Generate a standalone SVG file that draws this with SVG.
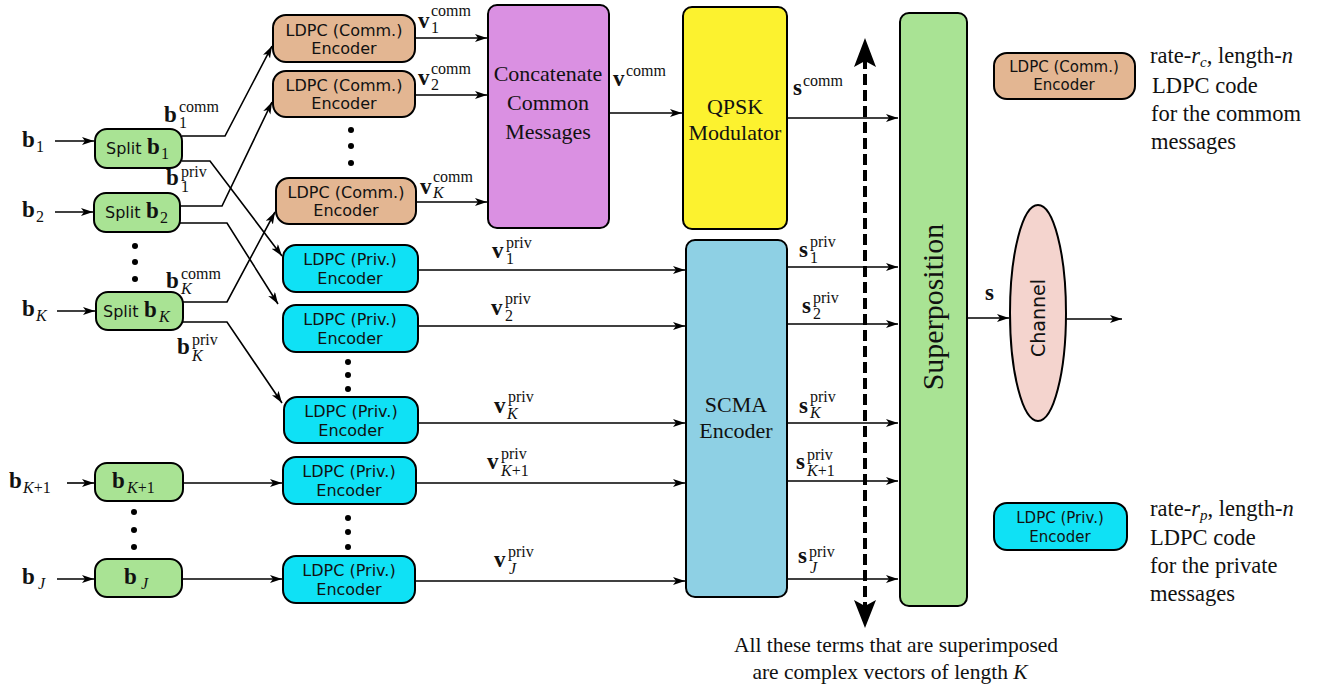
<svg xmlns="http://www.w3.org/2000/svg" width="1330" height="690" viewBox="0 0 1330 690">
  <style>
    .box { stroke: #000; stroke-width: 2; }
    .split { fill: #a9e394; }
    .comm { fill: #e3b692; }
    .priv { fill: #0fe1f5; }
    .sans { font-family: "DejaVu Sans", "Liberation Sans", sans-serif; font-size: 16px; fill: #111; }
    .serif { font-family: "Liberation Serif", serif; font-size: 22px; fill: #111; }
    .lg { font-size: 22.5px; }
    .mb { font-family: "Liberation Serif", serif; font-weight: bold; font-size: 23px; fill: #111; }
    .sup { font-family: "Liberation Serif", serif; font-size: 16px; fill: #111; }
    .sub { font-family: "Liberation Serif", serif; font-size: 16px; fill: #111; }
    .it { font-style: italic; }
    .wire { fill: none; stroke: #000; stroke-width: 1.6; }
    .dot { fill: #000; }
  </style>
  <defs>
    <marker id="arr" markerUnits="userSpaceOnUse" markerWidth="14" markerHeight="10" refX="12" refY="4" orient="auto">
      <path d="M0,0 L12,4 L0,8 L3,4 z" fill="#000"/>
    </marker>
  </defs>

  <!-- input labels -->
  <g id="inputs">
    <text class="mb" x="22" y="147">b</text><text class="sub" x="36" y="152">1</text>
    <text class="mb" x="22" y="217">b</text><text class="sub" x="36" y="222">2</text>
    <text class="mb" x="22" y="316">b</text><text class="sub it" x="36" y="321">K</text>
    <text class="mb" x="9" y="488">b</text><text class="sub" x="23" y="493"><tspan class="it">K</tspan>+1</text>
    <text class="mb" x="22" y="584">b</text><text class="sub it" x="38" y="589">J</text>
  </g>

  <!-- splitters -->
  <g id="split1">
    <rect class="box split" x="95" y="129" width="87" height="39" rx="12"/>
    <text class="sans" x="106" y="154">Split</text><text class="mb" x="147" y="154">b</text><text class="sub" x="161" y="159">1</text>
  </g>
  <g id="split2">
    <rect class="box split" x="94" y="193" width="86" height="39" rx="12"/>
    <text class="sans" x="105" y="218">Split</text><text class="mb" x="146" y="218">b</text><text class="sub" x="160" y="223">2</text>
  </g>
  <g id="splitK">
    <rect class="box split" x="96" y="292" width="87" height="38" rx="12"/>
    <text class="sans" x="103" y="317">Split</text><text class="mb" x="144" y="317">b</text><text class="sub it" x="159" y="322">K</text>
  </g>
  <g id="bK1">
    <rect class="box split" x="95" y="463" width="88" height="38" rx="12"/>
    <text class="mb" x="112" y="488">b</text><text class="sub" x="127" y="493"><tspan class="it">K</tspan>+1</text>
  </g>
  <g id="bJ">
    <rect class="box split" x="95" y="559" width="87" height="38" rx="12"/>
    <text class="mb" x="124" y="584">b</text><text class="sub it" x="141" y="589">J</text>
  </g>
  <g id="split-dots">
    <circle class="dot" cx="135" cy="246" r="3"/><circle class="dot" cx="135" cy="262" r="3"/><circle class="dot" cx="135" cy="279" r="3"/>
    <circle class="dot" cx="134" cy="512" r="3"/><circle class="dot" cx="134" cy="530" r="3"/><circle class="dot" cx="134" cy="547" r="3"/>
  </g>

  <!-- common-message LDPC encoders -->
  <g id="encC1">
    <rect class="box comm" x="273" y="15" width="142" height="47" rx="13"/>
    <text class="sans" x="344" y="36" text-anchor="middle">LDPC (Comm.)</text>
    <text class="sans" x="344" y="54" text-anchor="middle">Encoder</text>
  </g>
  <g id="encC2">
    <rect class="box comm" x="273" y="71" width="142" height="46" rx="13"/>
    <text class="sans" x="344" y="91" text-anchor="middle">LDPC (Comm.)</text>
    <text class="sans" x="344" y="109" text-anchor="middle">Encoder</text>
  </g>
  <g id="encCK">
    <rect class="box comm" x="276" y="178" width="140" height="46" rx="13"/>
    <text class="sans" x="346" y="198" text-anchor="middle">LDPC (Comm.)</text>
    <text class="sans" x="346" y="216" text-anchor="middle">Encoder</text>
  </g>
  <g id="encC-dots">
    <circle class="dot" cx="351" cy="130" r="3"/><circle class="dot" cx="351" cy="146" r="3"/><circle class="dot" cx="351" cy="163" r="3"/>
  </g>

  <!-- private-message LDPC encoders -->
  <g id="encP1">
    <rect class="box priv" x="283" y="245" width="135" height="47" rx="13"/>
    <text class="sans" x="350" y="265" text-anchor="middle">LDPC (Priv.)</text>
    <text class="sans" x="350" y="284" text-anchor="middle">Encoder</text>
  </g>
  <g id="encP2">
    <rect class="box priv" x="283" y="305" width="135" height="47" rx="13"/>
    <text class="sans" x="350" y="325" text-anchor="middle">LDPC (Priv.)</text>
    <text class="sans" x="350" y="344" text-anchor="middle">Encoder</text>
  </g>
  <g id="encPK">
    <rect class="box priv" x="284" y="397" width="134" height="46" rx="13"/>
    <text class="sans" x="351" y="417" text-anchor="middle">LDPC (Priv.)</text>
    <text class="sans" x="351" y="436" text-anchor="middle">Encoder</text>
  </g>
  <g id="encPK1">
    <rect class="box priv" x="283" y="457" width="133" height="47" rx="13"/>
    <text class="sans" x="349" y="477" text-anchor="middle">LDPC (Priv.)</text>
    <text class="sans" x="349" y="496" text-anchor="middle">Encoder</text>
  </g>
  <g id="encPJ">
    <rect class="box priv" x="283" y="556" width="132" height="47" rx="13"/>
    <text class="sans" x="349" y="576" text-anchor="middle">LDPC (Priv.)</text>
    <text class="sans" x="349" y="595" text-anchor="middle">Encoder</text>
  </g>
  <g id="encP-dots">
    <circle class="dot" cx="348" cy="362" r="3"/><circle class="dot" cx="348" cy="375" r="3"/><circle class="dot" cx="348" cy="389" r="3"/>
    <circle class="dot" cx="348" cy="518" r="3"/><circle class="dot" cx="348" cy="532" r="3"/><circle class="dot" cx="348" cy="547" r="3"/>
  </g>

  <!-- concatenation, modulation and SCMA -->
  <g id="concat">
    <rect class="box" x="488" y="5" width="121" height="223" rx="9" fill="#da90e2"/>
    <text class="serif" x="548" y="81" text-anchor="middle">Concatenate</text>
    <text class="serif" x="548" y="110" text-anchor="middle">Common</text>
    <text class="serif" x="548" y="139" text-anchor="middle">Messages</text>
  </g>
  <g id="qpsk">
    <rect class="box" x="683" y="7" width="104" height="222" rx="9" fill="#fcf22f"/>
    <text class="serif" x="735" y="114" text-anchor="middle">QPSK</text>
    <text class="serif" x="735" y="140" text-anchor="middle">Modulator</text>
  </g>
  <g id="scma">
    <rect class="box" x="686" y="240" width="101" height="357" rx="9" fill="#8ed0e4"/>
    <text class="serif" x="736" y="412" text-anchor="middle">SCMA</text>
    <text class="serif" x="736" y="438" text-anchor="middle">Encoder</text>
  </g>
  <g id="superposition">
    <rect class="box" x="900" y="13" width="67" height="593" rx="9" fill="#a9e394"/>
    <text class="serif" style="font-size:30px" transform="translate(943,307) rotate(-90)" text-anchor="middle">Superposition</text>
  </g>
  <g id="channel">
    <ellipse class="box" cx="1038" cy="313" rx="28" ry="108" fill="#f4d4ce"/>
    <text class="sans" style="font-size:19px" transform="translate(1045,318) rotate(-90)" text-anchor="middle">Channel</text>
  </g>

  <!-- connectors -->
  <g id="connectors">
    <!-- sources into splitters -->
    <line class="wire" x1="55" y1="141" x2="94" y2="141" marker-end="url(#arr)"/>
    <line class="wire" x1="55" y1="212" x2="93" y2="212" marker-end="url(#arr)"/>
    <line class="wire" x1="57" y1="311" x2="95" y2="311" marker-end="url(#arr)"/>
    <line class="wire" x1="67" y1="483" x2="94" y2="483" marker-end="url(#arr)"/>
    <line class="wire" x1="57" y1="579" x2="94" y2="579" marker-end="url(#arr)"/>
    <!-- splitter outputs -->
    <polyline class="wire" points="182,136 225,136 272,46" marker-end="url(#arr)"/>
    <polyline class="wire" points="182,161 210,161 282,256" marker-end="url(#arr)"/>
    <polyline class="wire" points="180,206 222,206 272,102" marker-end="url(#arr)"/>
    <polyline class="wire" points="180,223 227,223 278,304" marker-end="url(#arr)"/>
    <polyline class="wire" points="183,302 227,302 275,212" marker-end="url(#arr)"/>
    <polyline class="wire" points="183,322 227,322 282,403" marker-end="url(#arr)"/>
    <line class="wire" x1="183" y1="483" x2="282" y2="483" marker-end="url(#arr)"/>
    <line class="wire" x1="182" y1="579" x2="282" y2="579" marker-end="url(#arr)"/>
    <!-- common encoders to concatenation -->
    <line class="wire" x1="415" y1="38" x2="487" y2="38" marker-end="url(#arr)"/>
    <line class="wire" x1="415" y1="95" x2="487" y2="95" marker-end="url(#arr)"/>
    <line class="wire" x1="416" y1="202" x2="487" y2="202" marker-end="url(#arr)"/>
    <line class="wire" x1="609" y1="113" x2="682" y2="113" marker-end="url(#arr)"/>
    <line class="wire" x1="787" y1="118" x2="898" y2="118" marker-end="url(#arr)"/>
    <!-- private encoders to SCMA -->
    <line class="wire" x1="418" y1="270" x2="685" y2="270" marker-end="url(#arr)"/>
    <line class="wire" x1="418" y1="326" x2="685" y2="326" marker-end="url(#arr)"/>
    <line class="wire" x1="418" y1="423" x2="685" y2="423" marker-end="url(#arr)"/>
    <line class="wire" x1="416" y1="483" x2="685" y2="483" marker-end="url(#arr)"/>
    <line class="wire" x1="415" y1="581" x2="685" y2="581" marker-end="url(#arr)"/>
    <!-- SCMA outputs to superposition -->
    <line class="wire" x1="787" y1="267" x2="898" y2="267" marker-end="url(#arr)"/>
    <line class="wire" x1="787" y1="324" x2="898" y2="324" marker-end="url(#arr)"/>
    <line class="wire" x1="787" y1="423" x2="898" y2="423" marker-end="url(#arr)"/>
    <line class="wire" x1="787" y1="481" x2="898" y2="481" marker-end="url(#arr)"/>
    <line class="wire" x1="787" y1="579" x2="898" y2="579" marker-end="url(#arr)"/>
    <!-- superposition to channel and out -->
    <line class="wire" x1="967" y1="318" x2="1009" y2="318" marker-end="url(#arr)"/>
    <line class="wire" x1="1066" y1="319" x2="1122" y2="319" marker-end="url(#arr)"/>
    <!-- dashed double arrow across the superimposed terms -->
    <line x1="865" y1="58" x2="865" y2="608" stroke="#000" stroke-width="4" stroke-dasharray="11,5"/>
    <path d="M865,38 L876,67 L865,61 L854,67 z" fill="#000"/>
    <path d="M865,628 L876,600 L865,606 L854,600 z" fill="#000"/>
  </g>

  <!-- signal labels -->
  <g id="labels">
    <text class="mb" x="164" y="122">b</text><text class="sup" x="179" y="112">comm</text><text class="sub" x="179" y="128">1</text>
    <text class="mb" x="166" y="185">b</text><text class="sup" x="181" y="177">priv</text><text class="sub" x="181" y="192">1</text>
    <text class="mb" x="166" y="288">b</text><text class="sup" x="181" y="279">comm</text><text class="sub it" x="181" y="294">K</text>
    <text class="mb" x="177" y="354">b</text><text class="sup" x="192" y="345">priv</text><text class="sub it" x="192" y="361">K</text>

    <text class="mb" x="418" y="28">v</text><text class="sup" x="431" y="16">comm</text><text class="sub" x="431" y="33">1</text>
    <text class="mb" x="418" y="85">v</text><text class="sup" x="431" y="74">comm</text><text class="sub" x="431" y="90">2</text>
    <text class="mb" x="420" y="194">v</text><text class="sup" x="433" y="182">comm</text><text class="sub it" x="433" y="198">K</text>
    <text class="mb" x="613" y="86">v</text><text class="sup" x="626" y="76">comm</text>
    <text class="mb" x="793" y="95">s</text><text class="sup" x="803" y="86">comm</text>

    <text class="mb" x="492" y="258">v</text><text class="sup" x="506" y="248">priv</text><text class="sub" x="506" y="264">1</text>
    <text class="mb" x="491" y="315">v</text><text class="sup" x="505" y="304">priv</text><text class="sub" x="505" y="321">2</text>
    <text class="mb" x="494" y="413">v</text><text class="sup" x="508" y="402">priv</text><text class="sub it" x="507" y="419">K</text>
    <text class="mb" x="487" y="469">v</text><text class="sup" x="501" y="459">priv</text><text class="sub" x="501" y="476"><tspan class="it">K</tspan>+1</text>
    <text class="mb" x="494" y="567">v</text><text class="sup" x="508" y="557">priv</text><text class="sub it" x="509" y="574">J</text>

    <text class="mb" x="799" y="257">s</text><text class="sup" x="810" y="247">priv</text><text class="sub" x="810" y="263">1</text>
    <text class="mb" x="802" y="313">s</text><text class="sup" x="813" y="303">priv</text><text class="sub" x="813" y="319">2</text>
    <text class="mb" x="799" y="413">s</text><text class="sup" x="810" y="402">priv</text><text class="sub it" x="810" y="418">K</text>
    <text class="mb" x="796" y="469">s</text><text class="sup" x="807" y="460">priv</text><text class="sub" x="807" y="476"><tspan class="it">K</tspan>+1</text>
    <text class="mb" x="798" y="563">s</text><text class="sup" x="809" y="557">priv</text><text class="sub it" x="810" y="573">J</text>

    <text class="mb" x="985" y="300">s</text>
  </g>

  <!-- legend -->
  <g id="legend-comm">
    <rect class="box comm" x="994" y="53" width="141" height="46" rx="13"/>
    <text class="sans" x="1064" y="72" text-anchor="middle" style="font-size:15px">LDPC (Comm.)</text>
    <text class="sans" x="1064" y="90" text-anchor="middle" style="font-size:15px">Encoder</text>
    <text class="serif lg" x="1150" y="63">rate-<tspan class="it">r</tspan><tspan class="it" style="font-size:15px" dy="4">c</tspan><tspan dy="-4">, length-</tspan><tspan class="it">n</tspan></text>
    <text class="serif lg" x="1152" y="93"> LDPC code</text>
    <text class="serif lg" x="1151" y="121">for the commom</text>
    <text class="serif lg" x="1151" y="149">messages</text>
  </g>
  <g id="legend-priv">
    <rect class="box priv" x="994" y="503" width="133" height="47" rx="13"/>
    <text class="sans" x="1060" y="523" text-anchor="middle" style="font-size:15px">LDPC (Priv.)</text>
    <text class="sans" x="1060" y="542" text-anchor="middle" style="font-size:15px">Encoder</text>
    <text class="serif lg" x="1150" y="516">rate-<tspan class="it">r</tspan><tspan class="it" style="font-size:15px" dy="4">p</tspan><tspan dy="-4">, length-</tspan><tspan class="it">n</tspan></text>
    <text class="serif lg" x="1150" y="545">LDPC code</text>
    <text class="serif lg" x="1150" y="573">for the private</text>
    <text class="serif lg" x="1150" y="601">messages</text>
  </g>

  <g id="note">
    <text class="serif" style="font-size:21.5px" x="896" y="652" text-anchor="middle">All these terms that are superimposed</text>
    <text class="serif" style="font-size:21.5px" x="890" y="679" text-anchor="middle">are complex vectors of length <tspan class="it">K</tspan></text>
  </g>
</svg>
